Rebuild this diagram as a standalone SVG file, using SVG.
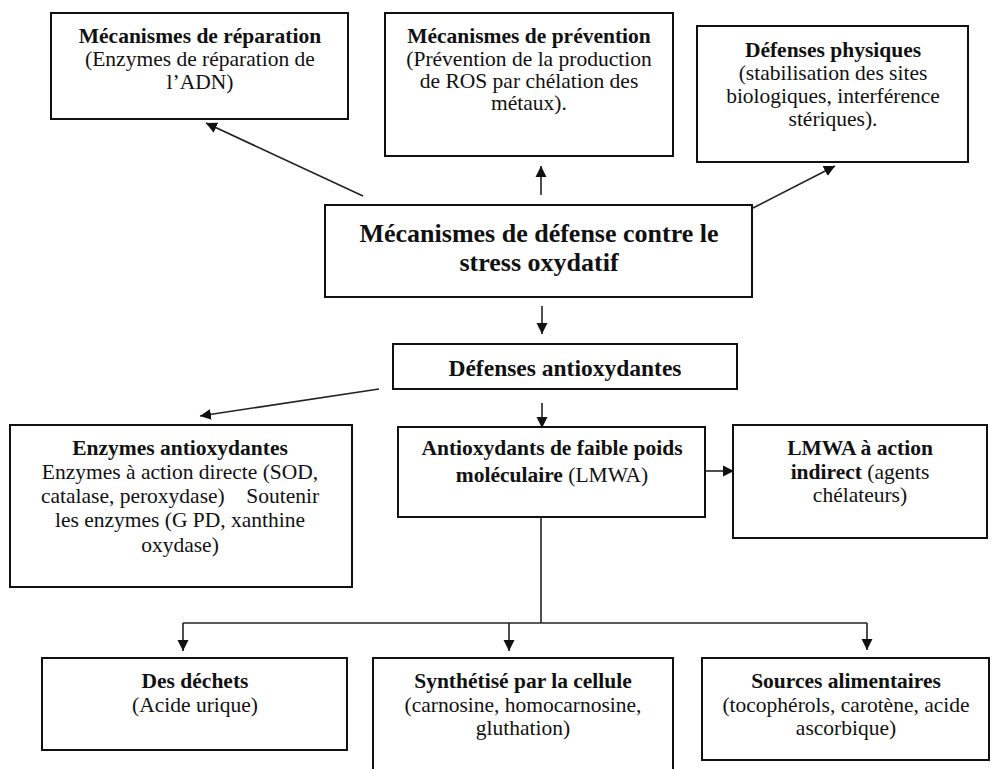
<svg xmlns="http://www.w3.org/2000/svg" width="992" height="769" viewBox="0 0 992 769">
<defs>
<marker id="ah" markerUnits="userSpaceOnUse" markerWidth="12" markerHeight="12" refX="11" refY="6" orient="auto">
<path d="M0,0.5 L11,6 L0,11.5 z" fill="#111"/>
</marker>
<style>
.box{fill:#fff;stroke:#111;stroke-width:2}
.t{font-size:21.5px;fill:#111;text-anchor:middle}
.b{font-weight:bold}
.big{font-size:26px}
.mid{font-size:23.5px}
.c{fill:none;stroke:#222;stroke-width:1.6}
.ca{fill:none;stroke:#222;stroke-width:1.6;marker-end:url(#ah)}
</style>
</defs>
<rect width="992" height="769" fill="#fff"/>

<g id="connectors">
<line class="ca" x1="363" y1="196" x2="206" y2="123"/>
<line class="ca" x1="541" y1="195" x2="541" y2="166"/>
<line class="ca" x1="753" y1="208" x2="835" y2="166"/>
<line class="ca" x1="542" y1="306" x2="542" y2="334"/>
<line class="ca" x1="379" y1="389" x2="200" y2="416"/>
<line class="ca" x1="542" y1="403" x2="542" y2="428"/>
<line class="ca" x1="705" y1="471" x2="734" y2="471"/>
<polyline class="c" points="541,517 541,623"/>
<polyline class="c" points="183,623 867,623"/>
<line class="ca" x1="183" y1="623" x2="183" y2="651"/>
<line class="ca" x1="509" y1="623" x2="509" y2="651"/>
<line class="ca" x1="867" y1="623" x2="867" y2="650"/>
</g>

<g font-family="'Liberation Serif', 'DejaVu Serif', serif">
<g id="reparation">
<rect class="box" x="51" y="13" width="297" height="106"/>
<text class="t b" x="200" y="43">Mécanismes de réparation</text>
<text class="t" x="200" y="66">(Enzymes de réparation de</text>
<text class="t" x="200" y="89">l’ADN)</text>
</g>

<g id="prevention">
<rect class="box" x="385" y="13" width="288" height="143"/>
<text class="t b" x="529" y="43">Mécanismes de prévention</text>
<text class="t" x="529" y="66">(Prévention de la production</text>
<text class="t" x="529" y="88">de ROS par chélation des</text>
<text class="t" x="529" y="110">métaux).</text>
</g>

<g id="physiques">
<rect class="box" x="697" y="26" width="271" height="136"/>
<text class="t b" x="833" y="57">Défenses physiques</text>
<text class="t" x="833" y="80">(stabilisation des sites</text>
<text class="t" x="833" y="103">biologiques, interférence</text>
<text class="t" x="833" y="126">stériques).</text>
</g>

<g id="central">
<rect class="box" x="325" y="205" width="427" height="92"/>
<text class="t b big" x="539" y="242">Mécanismes de défense contre le</text>
<text class="t b big" x="539" y="271">stress oxydatif</text>
</g>

<g id="antioxydantes">
<rect class="box" x="393" y="344" width="344" height="45"/>
<text class="t b mid" x="565" y="376">Défenses antioxydantes</text>
</g>

<g id="enzymes">
<rect class="box" x="10" y="425" width="342" height="162"/>
<text class="t b" x="180" y="455">Enzymes antioxydantes</text>
<text class="t" x="180" y="479">Enzymes à action directe (SOD,</text>
<text class="t" x="180" y="503" style="white-space:pre">catalase, peroxydase)    Soutenir</text>
<text class="t" x="180" y="527">les enzymes (G PD, xanthine</text>
<text class="t" x="180" y="552">oxydase)</text>
</g>

<g id="lmwa">
<rect class="box" x="398" y="427" width="307" height="90"/>
<text class="t b" x="552" y="455">Antioxydants de faible poids</text>
<text class="t" x="552" y="482"><tspan class="b">moléculaire</tspan> (LMWA)</text>
</g>

<g id="indirect">
<rect class="box" x="733" y="425" width="254" height="113"/>
<text class="t b" x="860" y="455">LMWA à action</text>
<text class="t" x="860" y="479"><tspan class="b">indirect</tspan> (agents</text>
<text class="t" x="860" y="502">chélateurs)</text>
</g>

<g id="dechets">
<rect class="box" x="42" y="658" width="305" height="92"/>
<text class="t b" x="195" y="688">Des déchets</text>
<text class="t" x="195" y="712">(Acide urique)</text>
</g>

<g id="synthetise">
<rect class="box" x="373" y="658" width="300" height="130"/>
<text class="t b" x="523" y="688">Synthétisé par la cellule</text>
<text class="t" x="523" y="712">(carnosine, homocarnosine,</text>
<text class="t" x="523" y="735">gluthation)</text>
</g>

<g id="alimentaires">
<rect class="box" x="702" y="658" width="287" height="102"/>
<text class="t b" x="846" y="688">Sources alimentaires</text>
<text class="t" x="846" y="712">(tocophérols, carotène, acide</text>
<text class="t" x="846" y="735">ascorbique)</text>
</g>
</g>
</svg>
